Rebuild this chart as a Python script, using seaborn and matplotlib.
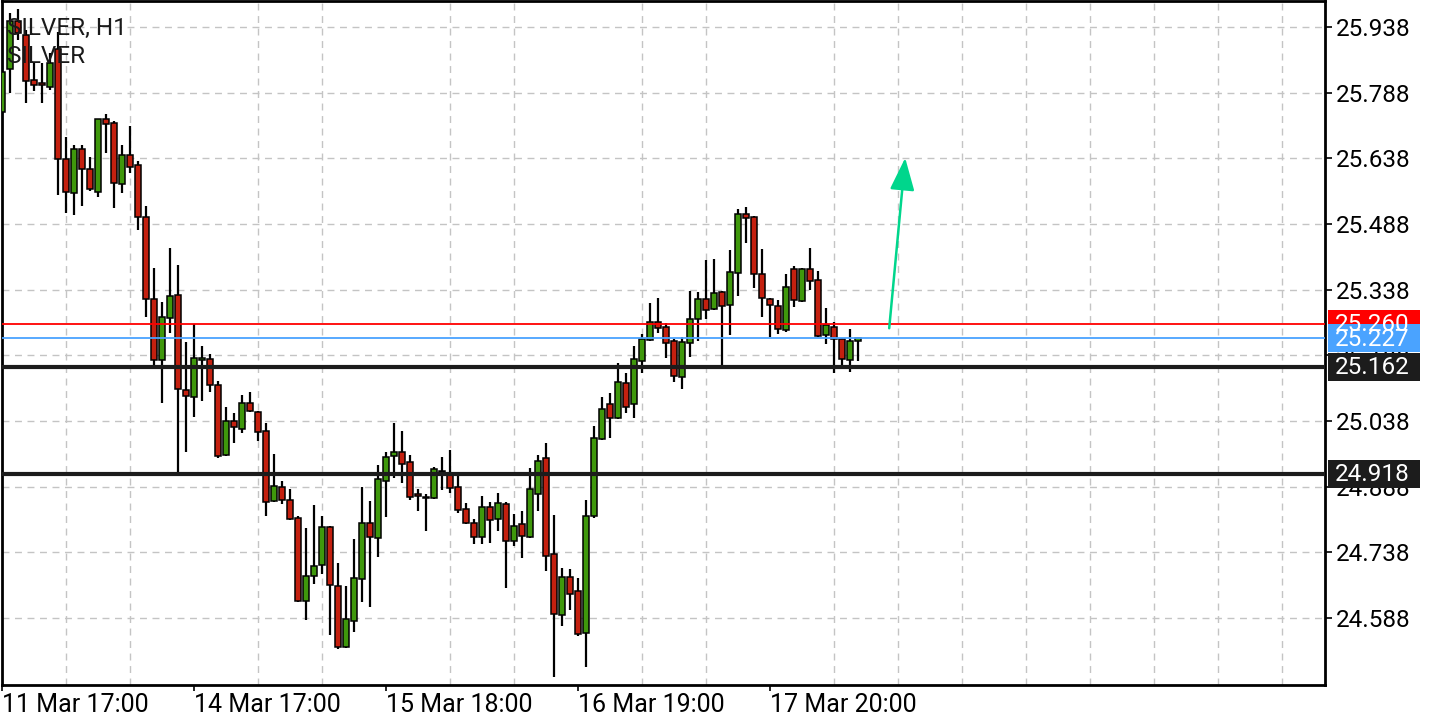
import matplotlib
matplotlib.use("Agg")
import matplotlib.pyplot as plt
import seaborn as sns
import numpy as np
from matplotlib.patches import Rectangle
from matplotlib.ticker import MultipleLocator
from matplotlib.transforms import blended_transform_factory

# ---------------- data ----------------
title_line1 = "SILVER, H1"
title_line2 = "SILVER"
x_labels = ["11 Mar 17:00", "14 Mar 17:00", "15 Mar 18:00", "16 Mar 19:00", "17 Mar 20:00"]
x_label_idx = [0, 24, 48, 72, 96]
y_ticks = [25.938, 25.788, 25.638, 25.488, 25.338, 25.188, 25.038, 24.888, 24.738, 24.588]

open_ = [25.744, 25.842, 25.952, 25.920, 25.817, 25.810, 25.801, 25.888, 25.637, 25.559,
         25.659, 25.614, 25.561, 25.728, 25.719, 25.579, 25.646, 25.623, 25.504, 25.317,
         25.177, 25.273, 25.326, 25.109, 25.093, 25.177, 25.180, 25.120, 24.960, 25.038,
         25.020, 25.079, 25.059, 25.015, 24.855, 24.887, 24.858, 24.817, 24.627, 24.684,
         24.709, 24.796, 24.661, 24.522, 24.581, 24.677, 24.805, 24.771, 24.901, 24.958,
         24.967, 24.944, 24.871, 24.865, 24.862, 24.924, 24.919, 24.887, 24.837, 24.805,
         24.773, 24.842, 24.814, 24.849, 24.764, 24.803, 24.773, 24.871, 24.954, 24.734,
         24.595, 24.682, 24.650, 24.554, 24.821, 24.997, 25.077, 25.045, 25.125, 25.077,
         25.175, 25.223, 25.264, 25.253, 25.221, 25.139, 25.216, 25.271, 25.317, 25.294,
         25.333, 25.303, 25.376, 25.511, 25.504, 25.374, 25.317, 25.301, 25.246, 25.385,
         25.312, 25.385, 25.360, 25.235, 25.253, 25.225, 25.177, 25.221]
high = [25.849, 25.970, 25.979, 25.931, 25.858, 25.856, 25.879, 25.927, 25.687, 25.668,
        25.668, 25.641, 25.728, 25.739, 25.723, 25.668, 25.712, 25.632, 25.529, 25.388,
        25.310, 25.433, 25.394, 25.219, 25.260, 25.209, 25.191, 25.130, 25.070, 25.056,
        25.098, 25.104, 25.060, 25.034, 24.963, 24.901, 24.883, 24.821, 24.794, 24.846,
        24.821, 24.798, 24.714, 24.661, 24.769, 24.887, 24.855, 24.938, 24.967, 25.034,
        25.015, 24.960, 24.883, 24.871, 24.933, 24.956, 24.972, 24.915, 24.851, 24.814,
        24.867, 24.853, 24.874, 24.853, 24.826, 24.833, 24.931, 24.960, 24.988, 24.824,
        24.702, 24.700, 24.680, 24.858, 25.027, 25.093, 25.102, 25.171, 25.148, 25.209,
        25.237, 25.308, 25.319, 25.262, 25.225, 25.230, 25.335, 25.333, 25.406, 25.408,
        25.335, 25.429, 25.522, 25.527, 25.506, 25.431, 25.319, 25.315, 25.374, 25.392,
        25.387, 25.433, 25.381, 25.296, 25.264, 25.227, 25.248, 25.228]
low = [25.739, 25.787, 25.908, 25.764, 25.792, 25.764, 25.794, 25.554, 25.513, 25.509,
       25.529, 25.563, 25.550, 25.650, 25.525, 25.559, 25.605, 25.474, 25.276, 25.166,
       25.079, 25.239, 24.918, 24.967, 25.047, 25.084, 25.104, 24.954, 24.958, 24.988,
       25.011, 25.059, 24.992, 24.821, 24.853, 24.849, 24.812, 24.625, 24.584, 24.666,
       24.689, 24.549, 24.517, 24.520, 24.556, 24.625, 24.613, 24.728, 24.819, 24.908,
       24.897, 24.858, 24.833, 24.787, 24.860, 24.880, 24.874, 24.828, 24.803, 24.757,
       24.757, 24.760, 24.787, 24.657, 24.753, 24.725, 24.771, 24.833, 24.696, 24.453,
       24.570, 24.606, 24.547, 24.476, 24.817, 24.995, 24.999, 25.043, 25.056, 25.045,
       25.148, 25.221, 25.239, 25.182, 25.127, 25.111, 25.184, 25.221, 25.270, 25.292,
       25.164, 25.235, 25.324, 25.445, 25.342, 25.276, 25.230, 25.237, 25.241, 25.298,
       25.310, 25.337, 25.230, 25.214, 25.148, 25.166, 25.150, 25.175]
close = [25.835, 25.952, 25.924, 25.815, 25.806, 25.806, 25.856, 25.637, 25.561, 25.659,
         25.614, 25.568, 25.728, 25.716, 25.582, 25.646, 25.618, 25.504, 25.317, 25.177,
         25.276, 25.324, 25.111, 25.095, 25.182, 25.182, 25.120, 24.958, 25.038, 25.024,
         25.079, 25.061, 25.013, 24.853, 24.890, 24.858, 24.814, 24.627, 24.684, 24.707,
         24.796, 24.664, 24.522, 24.586, 24.680, 24.805, 24.773, 24.906, 24.956, 24.967,
         24.940, 24.865, 24.867, 24.862, 24.928, 24.922, 24.885, 24.835, 24.805, 24.773,
         24.842, 24.812, 24.851, 24.764, 24.798, 24.776, 24.883, 24.947, 24.730, 24.597,
         24.682, 24.643, 24.552, 24.821, 24.999, 25.066, 25.045, 25.127, 25.070, 25.180,
         25.225, 25.264, 25.250, 25.216, 25.141, 25.219, 25.271, 25.317, 25.292, 25.330,
         25.301, 25.378, 25.511, 25.502, 25.374, 25.319, 25.303, 25.248, 25.344, 25.315,
         25.385, 25.358, 25.232, 25.257, 25.225, 25.180, 25.221, 25.227]

level_values = [25.260, 25.227, 25.162, 24.918]
level_labels = ["25.260", "25.227", "25.162", "24.918"]
level_colors = ["#ff0000", "#4aa3ff", "#1c1c1c", "#1c1c1c"]
level_widths = [1.3, 1.3, 3.0, 3.0]

arrow_from = (110.9, 25.250)
arrow_to = (112.9, 25.639)

# ---------------- style ----------------
sns.set_theme(style="white")
plt.rcParams["font.family"] = ["Roboto", "DejaVu Sans"]

fig = plt.figure(figsize=(14.4, 7.2), dpi=100)
ax = fig.add_axes([2 / 1440, 35 / 720, 1323 / 1440, 684 / 720])

o = np.array(open_)
h = np.array(high)
l = np.array(low)
c = np.array(close)
idx = np.arange(len(o))
up = c >= o

# wicks
ax.vlines(idx, l, h, color="black", linewidth=1.6, zorder=3)
# bodies
bottom = np.minimum(o, c)
height = np.maximum(np.abs(c - o), 0.002)
colors = np.where(up, "#3f980c", "#c4200f")
ax.bar(idx, height, bottom=bottom, width=0.72, color=colors,
       edgecolor="black", linewidth=1.1, zorder=4)

# levels
for v, col, lw in zip(level_values, level_colors, level_widths):
    ax.axhline(v, color=col, linewidth=lw, zorder=5)

# arrow
ax.annotate("", xy=arrow_to, xytext=arrow_from,
            arrowprops=dict(arrowstyle="-|>,head_length=1.0,head_width=0.38",
                            color="#00d68c", lw=1.8, mutation_scale=20,
                            shrinkA=0, shrinkB=0), zorder=6)

# axes limits
ax.set_xlim(0, 165.375)
ax.set_ylim(24.4352, 25.9974)

# grid
ax.set_yticks(y_ticks)
ax.set_yticklabels([f"{v:.3f}" for v in y_ticks])
ax.set_xticks(x_label_idx)
ax.set_xticklabels(x_labels, ha="left")
ax.xaxis.set_minor_locator(MultipleLocator(8))
ax.grid(False)
ax.grid(which="minor", axis="x", color="#c4c4c4", linestyle=(0, (5, 4)), linewidth=1.0)
ax.grid(which="major", axis="y", color="#c4c4c4", linestyle=(0, (5, 4)), linewidth=1.0)
ax.set_axisbelow(True)

ax.yaxis.tick_right()
ax.tick_params(axis="y", which="major", length=5, width=1.2, pad=3,
               labelsize=17.5, colors="black", labelcolor="black", right=True, left=False)
ax.tick_params(axis="x", which="major", length=4, width=1.2, pad=2,
               labelsize=18, colors="black", bottom=True)
ax.tick_params(axis="x", which="minor", length=0)

for s in ax.spines.values():
    s.set_visible(True)
    s.set_color("black")
    s.set_linewidth(2)

# title text
ax.text(0.004, 0.976, title_line1, transform=ax.transAxes, ha="left", va="top",
        fontsize=17.5, color="#1a1a1a", zorder=7)
ax.text(0.004, 0.935, title_line2, transform=ax.transAxes, ha="left", va="top",
        fontsize=17.5, color="#1a1a1a", zorder=7)

# price label boxes on the right axis
trans = blended_transform_factory(ax.transAxes, ax.transData)
box_h = 28 / 437.8
for v, lab, col in zip(level_values, level_labels, level_colors):
    rect = Rectangle((1.0023, v - box_h / 2), 0.0695, box_h, transform=trans,
                     facecolor=col, edgecolor="none", clip_on=False, zorder=10)
    ax.add_patch(rect)
    ax.text(1.0075, v - 0.002, lab, transform=trans, ha="left", va="center",
            fontsize=17.5, color="white", clip_on=False, zorder=11)

fig.savefig("out.png", dpi=100, facecolor="white")
